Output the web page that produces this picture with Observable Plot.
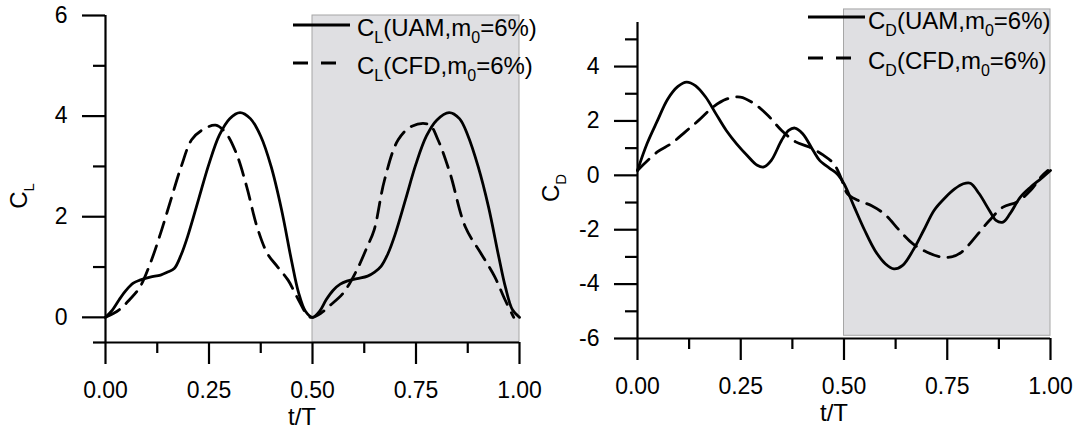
<!DOCTYPE html>
<html>
<head>
<meta charset="utf-8">
<script src="https://cdn.jsdelivr.net/npm/d3@7"></script>
<script src="https://cdn.jsdelivr.net/npm/@observablehq/plot@0.6"></script>
<style>
  html, body { margin: 0; padding: 0; background: #fff; }
  #wrap { display: flex; width: 1082px; height: 432px; overflow: hidden; }
  #wrap svg { display: block; flex: none; }
</style>
</head>
<body>
<div id="wrap"></div>
<script>
// ---------- Data ----------
// Left panel: lift coefficient C_L vs t/T
const tClUam = [0, 0.017, 0.033, 0.05, 0.067, 0.083, 0.108, 0.133, 0.15, 0.166, 0.183, 0.2, 0.225, 0.25, 0.275, 0.3, 0.325, 0.35, 0.375, 0.4, 0.425, 0.45, 0.466, 0.483, 0.5,
                0.517, 0.533, 0.55, 0.567, 0.583, 0.608, 0.633, 0.65, 0.666, 0.683, 0.7, 0.725, 0.75, 0.775, 0.8, 0.83, 0.855, 0.875, 0.9, 0.925, 0.95, 0.966, 0.983, 1.0];
const clUam  = [0, 0.15, 0.35, 0.54, 0.68, 0.74, 0.8, 0.84, 0.9, 0.97, 1.25, 1.65, 2.35, 3.05, 3.62, 3.95, 4.07, 3.95, 3.6, 3.0, 2.15, 1.1, 0.5, 0.12, 0,
                0.12, 0.35, 0.54, 0.66, 0.72, 0.77, 0.82, 0.9, 1.02, 1.28, 1.66, 2.35, 3.05, 3.6, 3.92, 4.07, 3.95, 3.62, 3.0, 2.2, 1.2, 0.6, 0.15, 0];
const tClCfd = [0, 0.033, 0.058, 0.083, 0.108, 0.133, 0.158, 0.183, 0.208, 0.233, 0.266, 0.291, 0.316, 0.341, 0.366, 0.391, 0.416, 0.441, 0.466, 0.49, 0.5,
                0.52, 0.54, 0.574, 0.607, 0.632, 0.649, 0.674, 0.707, 0.74, 0.782, 0.803, 0.832, 0.869, 0.907, 0.94, 0.965, 0.986];
const clCfd  = [0, 0.15, 0.35, 0.6, 1.07, 1.67, 2.34, 3.0, 3.53, 3.72, 3.82, 3.66, 3.26, 2.6, 1.8, 1.27, 1.0, 0.74, 0.35, 0.02, 0,
                0.08, 0.22, 0.48, 0.94, 1.4, 1.74, 2.73, 3.53, 3.8, 3.83, 3.53, 2.87, 1.8, 1.27, 0.81, 0.35, 0];

// Right panel: drag coefficient C_D vs t/T
const tCdUam = [0, 0.023, 0.048, 0.073, 0.098, 0.119, 0.14, 0.165, 0.19, 0.215, 0.24, 0.265, 0.29, 0.306, 0.324, 0.349, 0.366, 0.381, 0.4, 0.425, 0.441, 0.466, 0.483, 0.5,
                0.525, 0.55, 0.575, 0.6, 0.621, 0.642, 0.667, 0.693, 0.718, 0.743, 0.768, 0.789, 0.806, 0.827, 0.852, 0.868, 0.885, 0.902, 0.927, 0.952, 0.977, 1.0];
const cdUam  = [0.18, 1.16, 2.0, 2.8, 3.27, 3.43, 3.3, 2.88, 2.26, 1.65, 1.16, 0.74, 0.37, 0.31, 0.55, 1.29, 1.65, 1.74, 1.53, 0.92, 0.55, 0.25, 0.06, -0.31,
                -1.17, -2.02, -2.76, -3.25, -3.44, -3.31, -2.76, -2.02, -1.29, -0.85, -0.5, -0.31, -0.29, -0.67, -1.29, -1.66, -1.72, -1.41, -0.8, -0.43, -0.12, 0.18];
const tCdCfd = [0, 0.048, 0.081, 0.115, 0.148, 0.182, 0.215, 0.249, 0.282, 0.316, 0.349, 0.383, 0.416, 0.45, 0.475, 0.492, 0.508, 0.534, 0.567, 0.6,
                0.634, 0.667, 0.7, 0.734, 0.76, 0.785, 0.818, 0.852, 0.885, 0.919, 0.952, 0.977, 0.994];
const cdCfd  = [0.18, 0.86, 1.16, 1.59, 2.02, 2.5, 2.8, 2.88, 2.64, 2.2, 1.65, 1.23, 1.04, 0.74, 0.43, -0.06, -0.67, -0.92, -1.12, -1.45,
                -2.02, -2.52, -2.82, -3.0, -3.0, -2.82, -2.27, -1.66, -1.17, -0.98, -0.55, -0.06, 0.18];

// Ticks
const xMajor = [0, 0.25, 0.5, 0.75, 1.0];
const xMinor = [0.125, 0.375, 0.625, 0.875];
const clMajor = [0, 2, 4, 6];
const clMinor = [-0.5, 1, 3, 5];
const cdMajor = [-6, -4, -2, 0, 2, 4];
const cdMinor = [-5, -3, -1, 1, 3, 5];

// Shaded half-cycle
const shadeL = [{x1: 0.5, x2: 1.0, y1: -0.5, y2: 6}];
const shadeR = [{x1: 0.5, x2: 1.0, y1: -5.9, y2: 6.1}];

const zip = (ts, vs) => ts.map((t, i) => ({t, v: vs[i]}));

const FONT = "'Liberation Sans', Arial, Helvetica, sans-serif";
const AX = 2.2;
const LW = 2.8;
const TICKFS = 23;

function panel(o) {
  const svg = Plot.plot({
    width: o.width, height: 432,
    marginLeft: o.ml, marginRight: o.mr, marginTop: o.mt, marginBottom: o.mb,
    x: {domain: [0, 1]},
    y: {domain: o.yDomain},
    style: {fontFamily: FONT, fontSize: TICKFS + "px", color: "#000", background: "transparent", overflow: "visible"},
    marks: [
      Plot.rect(o.shade, {x1: "x1", x2: "x2", y1: "y1", y2: "y2", fill: "#dfdfe2", stroke: "#a6a6a6", strokeWidth: 1}),
      Plot.line(o.uam, {x: "t", y: "v", curve: "catmull-rom", stroke: "#000", strokeWidth: LW}),
      Plot.line(o.cfd, {x: "t", y: "v", curve: "catmull-rom", stroke: "#000", strokeWidth: LW, strokeDasharray: "16,9"}),
      Plot.ruleX([0], {y1: o.yDomain[0], y2: o.yDomain[1], stroke: "#000", strokeWidth: AX}),
      Plot.ruleY([o.yDomain[0]], {x1: 0, x2: 1, stroke: "#000", strokeWidth: AX}),
      Plot.axisX({ticks: xMajor, tickSize: 22, tickPadding: o.xPad, tickFormat: d3.format(".2f"), fontSize: TICKFS, strokeWidth: AX, label: null}),
      Plot.axisX({ticks: xMinor, tickSize: 11, fill: "none", strokeWidth: AX, label: null}),
      Plot.axisY({ticks: o.yMajor, tickSize: 23, tickPadding: 15, tickFormat: d => String(d), fontSize: TICKFS, strokeWidth: AX, label: null}),
      Plot.axisY({ticks: o.yMinor, tickSize: 12, fill: "none", strokeWidth: AX, label: null})
    ]
  });

  const s = d3.select(svg);
  const g = s.append("g").attr("font-family", FONT).attr("fill", "#000").attr("text-anchor", "start");

  // Legend
  const lg = o.legend;
  g.append("line").attr("x1", lg.x1).attr("x2", lg.x2).attr("y1", lg.y1).attr("y2", lg.y1)
    .attr("stroke", "#000").attr("stroke-width", LW);
  g.append("line").attr("x1", lg.x1).attr("x2", lg.x2d).attr("y1", lg.y2).attr("y2", lg.y2)
    .attr("stroke", "#000").attr("stroke-width", LW).attr("stroke-dasharray", "15,13");
  const rows = [[lg.b1, "UAM"], [lg.b2, "CFD"]];
  for (const [by, name] of rows) {
    const t = g.append("text").attr("x", lg.tx).attr("y", by).attr("font-size", 24).attr("text-anchor", "start");
    t.append("tspan").text("C");
    t.append("tspan").attr("dy", 7).attr("font-size", 16).text(o.sub);
    t.append("tspan").attr("dy", -7).text("(" + name + ",m");
    t.append("tspan").attr("dy", 7).attr("font-size", 16).text("0");
    t.append("tspan").attr("dy", -7).text("=6%)");
  }

  // Axis titles
  const yl = g.append("text").attr("transform", `translate(${o.ylx},${o.yly}) rotate(-90)`)
    .attr("text-anchor", "middle").attr("font-size", 24);
  yl.append("tspan").text("C");
  yl.append("tspan").attr("dy", 7).attr("font-size", 15).text(o.sub);

  g.append("text").attr("x", o.xlx).attr("y", o.xly).attr("text-anchor", "middle")
    .attr("font-size", 24).text("t/T");

  return svg;
}

const wrap = document.getElementById("wrap");

wrap.appendChild(panel({
  width: 541, ml: 105, mr: 22, mt: 15, mb: 90, xPad: 17,
  yDomain: [-0.5, 6], yMajor: clMajor, yMinor: clMinor, shade: shadeL,
  uam: zip(tClUam, clUam), cfd: zip(tClCfd, clCfd), sub: "L",
  legend: {x1: 293, x2: 350, x2d: 336, y1: 25, y2: 63, tx: 357, b1: 36, b2: 74},
  ylx: 27, yly: 196, xlx: 302, xly: 425
}));

wrap.appendChild(panel({
  width: 541, ml: 96, mr: 32, mt: 22, mb: 94, xPad: 17,
  yDomain: [-6, 5.62], yMajor: cdMajor, yMinor: cdMinor, shade: shadeR,
  uam: zip(tCdUam, cdUam), cfd: zip(tCdCfd, cdCfd), sub: "D",
  legend: {x1: 267, x2: 324, x2d: 312, y1: 17, y2: 58, tx: 327, b1: 29, b2: 69},
  ylx: 18, yly: 188, xlx: 293, xly: 421
}));
</script>
</body>
</html>
